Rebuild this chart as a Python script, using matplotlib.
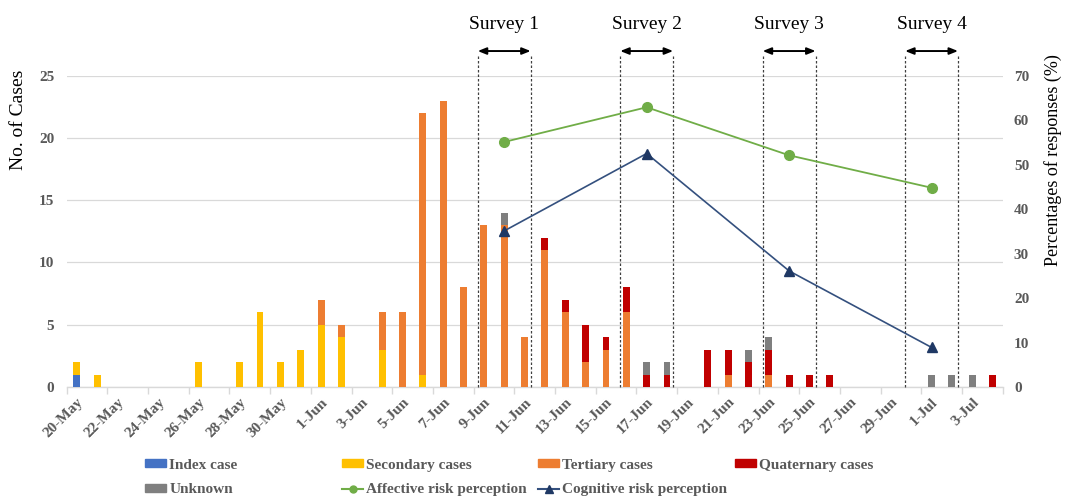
import numpy as np
import pandas as pd
import matplotlib
matplotlib.use("Agg")
import matplotlib.pyplot as plt
from matplotlib.patches import Patch
from matplotlib.lines import Line2D

plt.rcParams["font.family"] = ["Liberation Serif", "DejaVu Serif"]
TXT = "#595959"
GRID = "#D9D9D9"

# ---- data (one value per day, 20-May .. 4-Jul) ----
dates = [f"{d.day}-{d.strftime('%b')}" for d in pd.date_range("2015-05-20", "2015-07-04")]
n = len(dates)

index_case = np.zeros(n); index_case[0] = 1
secondary = np.zeros(n)
for i, v in {0: 1, 1: 1, 6: 2, 8: 2, 9: 6, 10: 2, 11: 3, 12: 5, 13: 4, 15: 3, 17: 1}.items():
    secondary[i] = v
tertiary = np.zeros(n)
for i, v in {12: 2, 13: 1, 15: 3, 16: 6, 17: 21, 18: 23, 19: 8, 20: 13, 21: 13, 22: 4,
             23: 11, 24: 6, 25: 2, 26: 3, 27: 6, 32: 1, 34: 1}.items():
    tertiary[i] = v
quaternary = np.zeros(n)
for i, v in {23: 1, 24: 1, 25: 3, 26: 1, 27: 2, 28: 1, 29: 1, 31: 3, 32: 2, 33: 2,
             34: 2, 35: 1, 36: 1, 37: 1, 45: 1}.items():
    quaternary[i] = v
unknown = np.zeros(n)
for i in [21, 28, 29, 33, 34, 42, 43, 44]:
    unknown[i] = 1

survey_names = ["Survey 1", "Survey 2", "Survey 3", "Survey 4"]
survey_day = ["10-Jun", "17-Jun", "24-Jun", "1-Jul"]
affective = [55.1, 62.9, 52.1, 44.8]
cognitive = [35.1, 52.5, 26.1, 8.9]

# ---- figure ----
fig = plt.figure(figsize=(10.65, 4.97), dpi=100)
ax = fig.add_axes([0.0626, 0.2213, 0.879, 0.6264])
x = np.arange(n)
w = 0.34
series = [("Index case", index_case, "#4472C4"),
          ("Secondary cases", secondary, "#FFC000"),
          ("Tertiary cases", tertiary, "#ED7D31"),
          ("Quaternary cases", quaternary, "#C00000"),
          ("Unknown", unknown, "#7F7F7F")]
bottom = np.zeros(n)
for name, vals, c in series:
    ax.bar(x, vals, w, bottom=bottom, color=c, zorder=3)
    bottom += vals

ax.set_xlim(-0.5, n - 0.5)
ax.set_ylim(0, 25)
ax.set_yticks(range(0, 26, 5))
ax.grid(axis="y", color=GRID, lw=0.9, zorder=0)
for s in ["top", "right", "left"]:
    ax.spines[s].set_visible(False)
ax.spines["bottom"].set_color(GRID)
ax.spines["bottom"].set_linewidth(1.0)
ax.set_xticks(x[::2])
ax.set_xticklabels(dates[::2], rotation=45, ha="right", rotation_mode="anchor")
ax.set_xticks(np.arange(-0.5, n, 2), minor=True)
ax.tick_params(axis="x", which="major", length=0, pad=6, labelsize=11, labelcolor=TXT)
ax.tick_params(axis="x", which="minor", length=5, color=GRID, width=1.0)
ax.tick_params(axis="y", length=0, pad=9, labelsize=11, labelcolor=TXT)
for t in ax.get_xticklabels() + ax.get_yticklabels():
    t.set_fontweight("bold")
ax.set_ylabel("No. of Cases", fontsize=14)
ax.yaxis.set_label_coords(-0.042, 0.858)

# ---- right axis: risk perception ----
ax2 = ax.twinx()
ax2.set_ylim(0, 70)
ax2.set_yticks(range(0, 71, 10))
for s in ["top", "right", "left", "bottom"]:
    ax2.spines[s].set_visible(False)
ax2.tick_params(axis="y", length=0, pad=8, labelsize=11, labelcolor=TXT)
for t in ax2.get_yticklabels():
    t.set_fontweight("bold")
ax2.set_ylabel("Percentages of responses (%)", fontsize=13)
ax2.yaxis.set_label_coords(1.044, 0.729)
sx = [dates.index(d) for d in survey_day]
ax2.plot(sx, affective, color="#70AD47", lw=1.3, marker="o", ms=7, zorder=5)
ax2.plot(sx, cognitive, color="#34507E", lw=1.2, marker="^", ms=7.5,
         mfc="#1F3864", mec="#1F3864", zorder=5)

# ---- survey windows ----
half = 1.3
for name, c in zip(survey_names, sx):
    for xe in (c - half, c + half):
        ax.plot([xe, xe], [0, 26.66], color="#404040", lw=0.9, ls=(0, (2, 1.6)),
                clip_on=False, zorder=4)
    ax.annotate("", xy=(c + half, 26.98), xytext=(c - half, 26.98),
                arrowprops=dict(arrowstyle="<|-|>,head_length=0.5,head_width=0.2",
                                color="black", lw=1.4, shrinkA=0, shrinkB=0),
                annotation_clip=False)
    ax.text(c, 29.1, name, ha="center", va="center", fontsize=14)

# ---- legend (4 equal-width columns) ----
handles = {name: Patch(color=c) for name, _, c in series}
handles["Affective risk perception"] = Line2D([], [], color="#70AD47", marker="o", ms=5, lw=1.5)
handles["Cognitive risk perception"] = Line2D([], [], color="#34507E", marker="^", ms=6,
                                              mfc="#1F3864", mec="#1F3864", lw=1.5)
cols = [["Index case", "Unknown"],
        ["Secondary cases", "Affective risk perception"],
        ["Tertiary cases", "Cognitive risk perception"],
        ["Quaternary cases"]]
xs = [0.136, 0.321, 0.505, 0.690]
for labels, xl in zip(cols, xs):
    lg = fig.legend([handles[l] for l in labels], labels, loc="upper left",
                    bbox_to_anchor=(xl, 0.077), frameon=False, borderpad=0,
                    borderaxespad=0, handlelength=1.4, handleheight=0.4,
                    handletextpad=0.2, labelspacing=0.75,
                    prop={"size": 11, "weight": "bold"})
    for t in lg.get_texts():
        t.set_color(TXT)

fig.savefig("out.png", dpi=100)
